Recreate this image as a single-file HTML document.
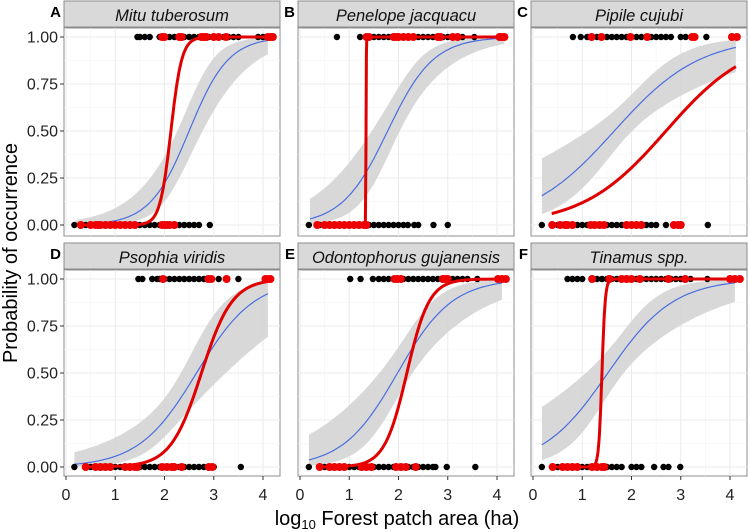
<!DOCTYPE html>
<html><head><meta charset="utf-8"><style>
html,body{margin:0;padding:0;background:#fff}
svg{display:block;font-family:"Liberation Sans",sans-serif}
</style></head><body>
<svg id="chart" width="748" height="532" viewBox="0 0 748 532" xmlns="http://www.w3.org/2000/svg"></svg>
<script>
const panelLetters=["A","B","C","D","E","F"];
const panelTitles=["Mitu tuberosum","Penelope jacquacu","Pipile cujubi","Psophia viridis","Odontophorus gujanensis","Tinamus spp."];
const xTicks=[0,1,2,3,4];
const xTickLabels=["0","1","2","3","4"];
const yTicks=[0,0.25,0.5,0.75,1];
const yTickLabels=["0.00","0.25","0.50","0.75","1.00"];
// blue GLM fit: midpoint, slope, x-range; band se params
const blueMid=[2.5,1.78,1.65,2.65,1.98,1.52];
const blueSlope=[2.5,2.15,1.15,1.7,1.8,1.5];
const blueFrom=[0.2,0.2,0.18,0.17,0.18,0.18];
const blueTo=[4.1,4.15,4.12,4.1,4.1,4.1];
const seBase=[0.5,0.45,0.35,0.45,0.45,0.4];
const seGrow=[0.8,0.7,0.5,0.7,0.7,0.65];
const seCenter=[2.4,2.0,1.9,2.2,2.1,1.7];
// red fit
const redMid=[2.13,1.34,2.7,2.75,2.17,1.4];
const redSlope=[9,300,1.18,3.2,4.4,30];
const redFrom=[0.3,0.35,0.38,0.35,0.35,0.35];
const redTo=[4.2,4.15,4.12,4.15,4.15,4.15];
// observations
const blackAbs=[
[0.17,0.4,0.5,0.6,0.7,0.8,0.9,1.0,1.1,1.2,1.3,1.4,1.5,1.6,1.7,1.8,1.9,2.0,2.1,2.2,2.3,2.4,2.5,2.6,2.7,2.92],
[0.18,0.4,0.5,0.6,0.7,0.8,0.9,1.0,1.1,1.2,1.3,1.4,1.5,1.6,1.7,1.8,1.9,2.0,2.1,2.19,2.32,2.4,2.71,3.0],
[0.18,0.4,0.5,0.6,0.7,0.8,0.9,1.0,1.1,1.2,1.3,1.4,1.5,1.6,1.7,1.8,1.9,2.0,2.1,2.2,2.3,2.4,2.5,2.7,2.9,3.55],
[0.17,0.4,0.5,0.6,0.7,0.8,0.9,1.0,1.1,1.2,1.3,1.4,1.5,1.6,1.7,1.8,1.9,2.0,2.1,2.2,2.3,2.4,2.5,2.6,2.7,2.8,3.0,3.55],
[0.18,0.4,0.5,0.6,0.7,0.8,0.9,1.0,1.1,1.2,1.3,1.4,1.5,1.6,1.7,1.8,1.9,2.0,2.1,2.2,2.3,2.4,2.5,2.6,2.7,2.75,2.98,3.56],
[0.18,0.4,0.5,0.6,0.7,0.8,0.9,1.0,1.1,1.2,1.3,1.4,1.5,1.6,1.7,1.8,2.0,2.1,2.2,2.46,2.65,2.75,2.99]];
const redAbs=[
[0.3,0.5,0.6,0.65,0.7,0.8,0.9,1.0,1.1,1.2,1.3,1.4,1.95,2.0,2.05,2.1,2.2],
[0.35,0.5,0.6,0.7,0.8,0.9,1.0,1.1,1.2,1.3,1.35],
[0.39,0.55,0.65,0.7,0.8,1.17,1.25,1.35,1.44,1.9,2.0,2.1,2.2,2.86,2.95,3.0],
[0.4,0.6,0.7,0.8,0.9,1.2,1.3,1.4,1.45,1.95,2.05,2.15,2.2,2.35,2.9,2.97],
[0.4,0.6,0.7,0.8,0.9,1.25,1.35,1.45,1.95,2.05,2.15,2.35],
[0.4,0.6,0.7,0.8,0.9,1.2,1.3,1.4,1.45]];
const blackPres=[
[1.45,1.5,1.6,1.7,1.9,2.0,2.1,2.2,2.3,2.4,2.5,2.6,2.7,2.8,2.9,3.0,3.1,3.2,3.3,3.4,3.5,3.9,4.0],
[0.75,1.22,1.4,1.5,1.6,1.7,1.8,1.9,2.0,2.1,2.2,2.3,2.4,2.5,2.6,2.7,2.8,2.9,3.0,3.1,3.2,3.3,3.54],
[0.81,0.97,1.1,1.2,1.3,1.4,1.5,1.6,1.7,1.8,1.9,2.0,2.1,2.2,2.3,2.4,2.5,2.6,2.7,2.8,3.0,3.1,3.52],
[1.47,1.55,1.75,1.85,1.9,2.0,2.1,2.2,2.3,2.4,2.5,2.6,2.7,2.8,3.1,3.5],
[1.02,1.23,1.48,1.6,1.7,1.8,1.9,2.0,2.1,2.2,2.3,2.4,2.5,2.6,2.7,2.8,2.9,3.0,3.1,3.2,3.3,3.4,3.6],
[0.7,0.8,0.9,1.0,1.2,1.3,1.4,1.5,1.6,1.7,1.8,1.9,2.0,2.1,2.2,2.3,2.4,2.5,2.6,2.7,2.8,2.9,3.0,3.1,3.2,3.54]];
const redPres=[
[1.95,2.0,2.3,2.35,2.75,2.8,2.85,3.0,3.1,3.25,4.1,4.15,4.2],
[1.35,1.4,1.9,1.95,2.0,2.1,2.2,2.3,2.8,2.85,3.1,3.2,4.05,4.1,4.15],
[1.19,1.39,1.98,2.32,3.23,3.28,4.04,4.14],
[1.97,2.89,2.95,3.26,4.05,4.1,4.15],
[1.92,1.98,2.05,2.9,2.95,3.0,4.02,4.1,4.18],
[1.2,1.55,1.8,1.9,2.0,2.17,2.75,3.09,4.0,4.1,4.2]];

const NS="http://www.w3.org/2000/svg";
const svg=document.getElementById("chart");
function mk(tag,attrs,parent){const e=document.createElementNS(NS,tag);for(const k in attrs)e.setAttribute(k,attrs[k]);(parent||svg).appendChild(e);return e;}
const colLeft=[64,298,531], panelW=216;
const rowStrip=[1,243], rowTop=[28,270], rowBot=[236,476];
function logistic(z){return 1/(1+Math.exp(-z));}

for(let p=0;p<6;p++){
  const r=Math.floor(p/3), c=p%3;
  const L=colLeft[c], T=rowTop[r], B=rowBot[r];
  const xs=v=>L+2+v*49.25;
  const ys=v=>T+197-v*188;
  const g=mk("g",{});
  
  
  mk("rect",{x:L,y:T,width:panelW,height:B-T,fill:"#fff",stroke:"#8c8c8c","stroke-width":1},g);
  for(let v=0.5;v<4.3;v+=1){mk("line",{x1:xs(v),x2:xs(v),y1:T,y2:B,stroke:"#f4f4f4","stroke-width":0.6},g);}
  for(let v=0.125;v<1;v+=0.25){mk("line",{x1:L,x2:L+panelW,y1:ys(v),y2:ys(v),stroke:"#f4f4f4","stroke-width":0.6},g);}
  xTicks.forEach(v=>mk("line",{x1:xs(v),x2:xs(v),y1:T,y2:B,stroke:"#ebebeb","stroke-width":1},g));
  yTicks.forEach(v=>mk("line",{x1:L,x2:L+panelW,y1:ys(v),y2:ys(v),stroke:"#ebebeb","stroke-width":1},g));
  let up=[],lo=[],bl=[];
  for(let i=0;i<=80;i++){
    const x=blueFrom[p]+(blueTo[p]-blueFrom[p])*i/80;
    const eta=blueSlope[p]*(x-blueMid[p]);
    const se=Math.sqrt(seBase[p]**2+(seGrow[p]*(x-seCenter[p]))**2);
    up.push(xs(x).toFixed(1)+","+ys(logistic(eta+1.96*se*0.6)).toFixed(1));
    lo.unshift(xs(x).toFixed(1)+","+ys(logistic(eta-1.96*se*0.6)).toFixed(1));
    bl.push(xs(x).toFixed(1)+","+ys(logistic(eta)).toFixed(1));
  }
  const band=mk("polygon",{points:up.concat(lo).join(" "),fill:"#d4d4d4","fill-opacity":0.9},g);
  
  
  const blue=mk("polyline",{points:bl.join(" "),fill:"none",stroke:"#4a6ee0","stroke-width":1.2},g);
  
  
  const addPts=(arr,yv,col,rad,name)=>arr.forEach(x=>{const d=mk("circle",{cx:xs(x),cy:ys(yv),r:rad,fill:col},g);
    
    });
  addPts(blackAbs[p],0,"#000",3.2,"absence-point");
  addPts(blackPres[p],1,"#000",3.2,"presence-point");
  let rd=[];
  for(let i=0;i<=400;i++){
    const x=redFrom[p]+(redTo[p]-redFrom[p])*i/400;
    rd.push(xs(x).toFixed(1)+","+ys(logistic(redSlope[p]*(x-redMid[p]))).toFixed(1));
  }
  const red=mk("polyline",{points:rd.join(" "),fill:"none",stroke:"#e00000","stroke-width":3,"stroke-linejoin":"round"},g);
  
  
  addPts(redAbs[p],0,"#ee0000",4,"red-absence-point");
  addPts(redPres[p],1,"#ee0000",4,"red-presence-point");
  const st=mk("rect",{x:L,y:rowStrip[r],width:panelW,height:T-rowStrip[r]-1,fill:"#d9d9d9",stroke:"#8c8c8c","stroke-width":1},g);
  
  
  const tt=mk("text",{x:L+panelW/2,y:rowStrip[r]+20,"text-anchor":"middle","font-size":16.5,"font-style":"italic",fill:"#111"},g);
  tt.textContent=panelTitles[p];
  
  
  const lt=mk("text",{x:L-3,y:rowStrip[r]+16,"text-anchor":"end","font-size":15,"font-weight":"bold",fill:"#000"},g);
  lt.textContent=panelLetters[p];
  
  
  if(c===0){yTicks.forEach((v,i)=>{mk("line",{x1:L-4,x2:L,y1:ys(v),y2:ys(v),stroke:"#333","stroke-width":1},g);
    const t=mk("text",{x:L-6,y:ys(v)+5.5,"text-anchor":"end","font-size":16,fill:"#222"},g);t.textContent=yTickLabels[i];
    
    });}
  if(r===1){xTicks.forEach((v,i)=>{mk("line",{x1:xs(v),x2:xs(v),y1:B,y2:B+4,stroke:"#333","stroke-width":1},g);
    const t=mk("text",{x:xs(v),y:B+24,"text-anchor":"middle","font-size":16,fill:"#222"},g);t.textContent=xTickLabels[i];
    
    });}
}
const yt=mk("text",{x:0,y:0,transform:"translate(17,253) rotate(-90)","text-anchor":"middle","font-size":20,fill:"#000"});
yt.textContent="Probability of occurrence";


const xt=mk("text",{x:397,y:525,"text-anchor":"middle","font-size":20,fill:"#000"});
xt.innerHTML='log<tspan font-size="13" dy="4">10</tspan><tspan dy="-4"> Forest patch area (ha)</tspan>';


</script>
</body></html>
